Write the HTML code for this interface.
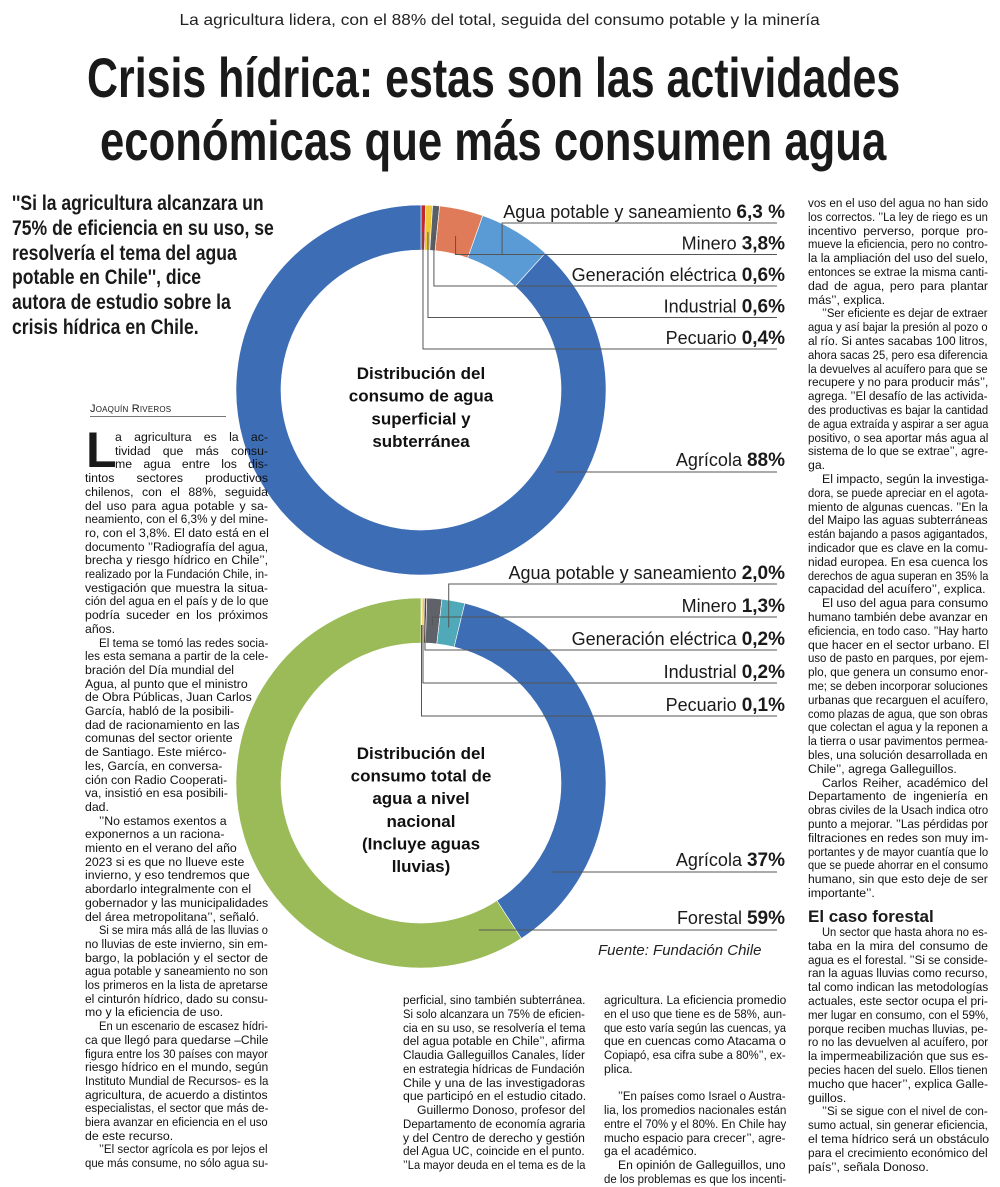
<!DOCTYPE html>
<html lang="es">
<head>
<meta charset="utf-8">
<title>Crisis hídrica</title>
<style>
  html,body{margin:0;padding:0;background:#fff;}
  #page{position:relative;width:1000px;height:1187px;overflow:hidden;background:#fff;color:#1a1a1a;font-family:"Liberation Sans",sans-serif;}
  .abs{position:absolute;}
  #kicker{left:0;top:12px;width:1000px;text-align:center;font-size:16px;color:#222;white-space:nowrap;}
  .tline{position:absolute;white-space:nowrap;font-family:"Liberation Sans Narrow","Liberation Sans",sans-serif;font-weight:bold;font-size:56px;line-height:56px;color:#1a1a1a;transform-origin:0 0;}
  #quote{left:12px;top:192px;font-family:"Liberation Sans Narrow","Liberation Sans",sans-serif;font-weight:bold;font-size:21px;line-height:24.8px;white-space:nowrap;transform-origin:0 0;color:#1a1a1a;}
  #byline{left:90px;top:403px;width:136px;font-size:11px;font-variant:small-caps;letter-spacing:0.2px;border-bottom:1px solid #777;padding-bottom:1px;white-space:nowrap;}
  .col{position:absolute;font-family:"Liberation Sans Narrow","Liberation Sans",sans-serif;font-size:12.3px;color:#111;}
  .ln{position:absolute;left:0;white-space:nowrap;height:14px;line-height:14px;}
  .ln.j{text-align:justify;text-align-last:justify;}
  .ln span{display:inline-block;transform-origin:0 0;}
  #dropcap{left:86px;top:427px;font-size:50px;line-height:46px;font-weight:bold;font-family:"Liberation Sans Narrow","Liberation Sans",sans-serif;}
  #forestal-h{left:808px;top:907px;font-size:17px;font-weight:bold;font-family:"Liberation Sans Narrow","Liberation Sans",sans-serif;white-space:nowrap;}
</style>
</head>
<body>
<div id="page">
  <div id="kicker" class="abs">La agricultura lidera, con el 88% del total, seguida del consumo potable y la minería</div>
  <div class="tline" id="t1" style="left:87px;top:50px;">Crisis hídrica: estas son las actividades</div>
  <div class="tline" id="t2" style="left:100px;top:113px;">económicas que más consumen agua</div>

  <div id="quote" class="abs">''Si la agricultura alcanzara un<br>75% de eficiencia en su uso, se<br>resolvería el tema del agua<br>potable en Chile'', dice<br>autora de estudio sobre la<br>crisis hídrica en Chile.</div>

  <div id="byline" class="abs">Joaquín Riveros</div>
  <div id="dropcap" class="abs">L</div>
  <div id="forestal-h" class="abs">El caso forestal</div>

  <svg id="charts" class="abs" style="left:0;top:0;" width="1000" height="1187"></svg>
</div>

<script>
// ---------- chart data ----------
const topCategories = ['Pecuario','Industrial','Generación eléctrica','Minero','Agua potable y saneamiento','Agrícola'];
const topValues = [0.4, 0.6, 0.6, 3.8, 6.3, 88];
const topValueLabels = ['0,4%','0,6%','0,6%','3,8%','6,3 %','88%'];
const topColors = ['#c0282d','#f0c93a','#5a5f66','#e07b5a','#5b9bd5','#3d6db5'];

const bottomCategories = ['Pecuario','Industrial','Generación eléctrica','Minero','Agua potable y saneamiento','Agrícola','Forestal'];
const bottomValues = [0.1, 0.2, 0.2, 1.3, 2.0, 37, 59];
const bottomValueLabels = ['0,1%','0,2%','0,2%','1,3%','2,0%','37%','59%'];
const bottomColors = ['#8ecae6','#f0c93a','#5b4433','#5f6369','#4fa9b8','#3d6db5','#9bbb59'];

const NS = 'http://www.w3.org/2000/svg';
const svg = document.getElementById('charts');

function pt(cx, cy, r, a){ return [cx + r*Math.sin(a), cy - r*Math.cos(a)]; }
function arcPath(cx, cy, r0, r1, a0, a1){
  const large = (a1 - a0) > Math.PI ? 1 : 0;
  const p0 = pt(cx,cy,r1,a0), p1 = pt(cx,cy,r1,a1), p2 = pt(cx,cy,r0,a1), p3 = pt(cx,cy,r0,a0);
  return `M${p0[0]},${p0[1]} A${r1},${r1} 0 ${large} 1 ${p1[0]},${p1[1]} L${p2[0]},${p2[1]} A${r0},${r0} 0 ${large} 0 ${p3[0]},${p3[1]} Z`;
}
function addLabel(name, val, y, key){
  const t = document.createElementNS(NS,'text');
  t.setAttribute('x', 785);
  t.setAttribute('y', y + 6);
  t.setAttribute('text-anchor','end');
  t.setAttribute('font-family','Liberation Sans, sans-serif');
  t.setAttribute('font-size','18');
  t.setAttribute('fill','#1a1a1a');
  
  
  t.appendChild(document.createTextNode(name + ' '));
  const s = document.createElementNS(NS,'tspan');
  s.setAttribute('font-weight','bold');
  s.setAttribute('font-size','19');
  s.textContent = val;
  t.appendChild(s);
  svg.appendChild(t);
}
function addLine(points, key){
  const l = document.createElementNS(NS,'polyline');
  l.setAttribute('points', points.map(p=>p.join(',')).join(' '));
  l.setAttribute('fill','none');
  l.setAttribute('stroke','#555');
  l.setAttribute('stroke-width','1');
  
  
  svg.appendChild(l);
}
function drawDonut(prefix, cats, vals, labels, colors, cx, cy, smallCount, labelBase, labelStep, bigLabelY){
  const total = vals.reduce((a,b)=>a+b,0);
  const r0 = 140, r1 = 185, rm = 158;
  let acc = 0;
  const mids = [];
  for (let i=0;i<vals.length;i++){
    const a0 = acc/total*2*Math.PI;
    acc += vals[i];
    const a1 = acc/total*2*Math.PI;
    mids.push((a0+a1)/2);
    const p = document.createElementNS(NS,'path');
    p.setAttribute('d', arcPath(cx,cy,r0,r1,a0,a1));
    p.setAttribute('fill', colors[i]);
    p.setAttribute('stroke', '#fff');
    p.setAttribute('stroke-width', '0.6');
    
    
    svg.appendChild(p);
  }
  for (let i=0;i<smallCount;i++){
    const row = smallCount - 1 - i;
    const ly = labelBase + row*labelStep;
    const lineY = ly + 11;
    const a = pt(cx,cy,rm,mids[i]);
    addLine([a,[a[0],lineY],[777,lineY]], prefix + '-' + i);
    addLabel(cats[i], labels[i], ly, prefix + '-' + i);
  }
  for (let k=smallCount;k<vals.length;k++){
    const ly = bigLabelY[k-smallCount];
    const lineY = ly + 12;
    const dy = lineY - cy;
    const x0 = cx + Math.sqrt(Math.max(0, rm*rm - dy*dy));
    addLine([[x0,lineY],[777,lineY]], prefix + '-' + k);
    addLabel(cats[k], labels[k], ly, prefix + '-' + k);
  }
}
drawDonut('top-donut', topCategories, topValues, topValueLabels, topColors, 421, 390, 5, 212, 31.5, [460]);
drawDonut('bottom-donut', bottomCategories, bottomValues, bottomValueLabels, bottomColors, 421, 783, 5, 573, 33, [860, 918]);

function centerText(lines, y0, lh, fs, key){
  lines.forEach((s,i)=>{
    const t = document.createElementNS(NS,'text');
    t.setAttribute('x', 421);
    t.setAttribute('y', y0 + i*lh);
    t.setAttribute('text-anchor','middle');
    t.setAttribute('font-family','Liberation Sans, sans-serif');
    t.setAttribute('font-weight','bold');
    t.setAttribute('font-size', fs);
    t.setAttribute('fill','#111');
    
    
    t.textContent = s;
    svg.appendChild(t);
  });
}
centerText(['Distribución del','consumo de agua','superficial y','subterránea'], 379, 22.7, 17, 'top-donut-title');
centerText(['Distribución del','consumo total de','agua a nivel','nacional','(Incluye aguas','lluvias)'], 759, 22.6, 17, 'bottom-donut-title');

const src = document.createElementNS(NS,'text');
src.setAttribute('x', 598);
src.setAttribute('y', 955);
src.setAttribute('font-family','Liberation Sans, sans-serif');
src.setAttribute('font-style','italic');
src.setAttribute('font-size','15');
src.setAttribute('fill','#222');


src.textContent = 'Fuente: Fundación Chile';
svg.appendChild(src);

// ---------- text columns ----------
const page = document.getElementById('page');
function column(key, x, y, w, lh, lines){
  const c = document.createElement('div');
  c.className = 'col';
  c.style.left = x + 'px';
  c.style.top = y + 'px';
  c.style.width = w + 'px';
  
  
  lines.forEach((raw,i)=>{
    let s = raw, indent = 0, just = true;
    if (s.startsWith('>')) { indent = 14; s = s.slice(1); }
    if (s.startsWith('~')) { indent = 30; s = s.slice(1); }
    if (s.endsWith('|')) { just = false; s = s.slice(0,-1); }
    const d = document.createElement('div');
    d.className = 'ln' + (just ? ' j' : '');
    d.style.top = (i*lh) + 'px';
    d.style.left = indent + 'px';
    d.style.width = (w - indent) + 'px';
    d.textContent = s;
    c.appendChild(d);
  });
  page.appendChild(c);
  c.querySelectorAll('.ln').forEach(d=>{
    const W = d.clientWidth;
    if (d.scrollWidth > W + 1){
      const sp = document.createElement('span');
      sp.textContent = d.textContent;
      d.textContent = '';
      d.appendChild(sp);
      sp.style.transform = 'scaleX(' + (W/sp.offsetWidth) + ')';
    }
  });
}
column('left-column-text', 85, 430, 183, 13.7, [
  '~a agricultura es la ac-','~tividad que más consu-','~me agua entre los dis-',
  'tintos sectores productivos','chilenos, con el 88%, seguida','del uso para agua potable y sa-',
  'neamiento, con el 6,3% y del mine-','ro, con el 3,8%. El dato está en el','documento ’’Radiografía del agua,',
  'brecha y riesgo hídrico en Chile’’,','realizado por la Fundación Chile, in-','vestigación que muestra la situa-',
  'ción del agua en el país y de lo que','podría suceder en los próximos','años.|',
  '>El tema se tomó las redes socia-|','les esta semana a partir de la cele-|','bración del Día mundial del|',
  'Agua, al punto que el ministro|','de Obra Públicas, Juan Carlos|','García, habló de la posibili-|',
  'dad de racionamiento en las|','comunas del sector oriente|','de Santiago. Este miérco-|',
  'les, García, en conversa-|','ción con Radio Cooperati-|','va, insistió en esa posibili-|','dad.|',
  '>’’No estamos exentos a|','exponernos a un raciona-|','miento en el verano del año|',
  '2023 si es que no llueve este|','invierno, y eso tendremos que|','abordarlo integralmente con el|',
  'gobernador y las municipalidades|','del área metropolitana’’, señaló.|',
  '>Si se mira más allá de las lluvias o','no lluvias de este invierno, sin em-','bargo, la población y el sector de',
  'agua potable y saneamiento no son','los primeros en la lista de apretarse','el cinturón hídrico, dado su consu-',
  'mo y la eficiencia de uso.|',
  '>En un escenario de escasez hídri-','ca que llegó para quedarse –Chile','figura entre los 30 países con mayor',
  'riesgo hídrico en el mundo, según','Instituto Mundial de Recursos- es la','agricultura, de acuerdo a distintos',
  'especialistas, el sector que más de-','biera avanzar en eficiencia en el uso','de este recurso.|',
  '>’’El sector agrícola es por lejos el','que más consume, no sólo agua su-'
]);
column('middle-column-text', 403, 993, 182, 13.75, [
  'perficial, sino también subterránea.','Si solo alcanzara un 75% de eficien-','cia en su uso, se resolvería el tema',
  'del agua potable en Chile’’, afirma','Claudia Galleguillos Canales, líder','en estrategia hídricas de Fundación',
  'Chile y una de las investigadoras','que participó en el estudio citado.|','>Guillermo Donoso, profesor del',
  'Departamento de economía agraria','y del Centro de derecho y gestión','del Agua UC, coincide en el punto.',
  '’’La mayor deuda en el tema es de la'
]);
column('third-column-text', 604, 993, 182, 13.75, [
  'agricultura. La eficiencia promedio','en el uso que tiene es de 58%, aun-','que esto varía según las cuencas, ya',
  'que en cuencas como Atacama o|','Copiapó, esa cifra sube a 80%’’, ex-','plica.|','',
  '>’’En países como Israel o Austra-','lia, los promedios nacionales están','entre el 70% y el 80%. En Chile hay',
  'mucho espacio para crecer’’, agre-','ga el académico.|','>En opinión de Galleguillos, uno',
  'de los problemas es que los incenti-'
]);
column('right-column-text', 808, 196, 180, 13.8, [
  'vos en el uso del agua no han sido','los correctos. ’’La ley de riego es un','incentivo perverso, porque pro-',
  'mueve la eficiencia, pero no contro-','la la ampliación del uso del suelo,','entonces se extrae la misma canti-',
  'dad de agua, pero para plantar','más’’, explica.|','>’’Ser eficiente es dejar de extraer',
  'agua y así bajar la presión al pozo o','al río. Si antes sacabas 100 litros,','ahora sacas 25, pero esa diferencia',
  'la devuelves al acuífero para que se','recupere y no para producir más’’,','agrega. ’’El desafío de las activida-',
  'des productivas es bajar la cantidad','de agua extraída y aspirar a ser agua','positivo, o sea aportar más agua al',
  'sistema de lo que se extrae’’, agre-','ga.|','>El impacto, según la investiga-',
  'dora, se puede apreciar en el agota-','miento de algunas cuencas. ’’En la','del Maipo las aguas subterráneas',
  'están bajando a pasos agigantados,','indicador que es clave en la comu-','nidad europea. En esa cuenca los',
  'derechos de agua superan en 35% la','capacidad del acuífero’’, explica.|','>El uso del agua para consumo',
  'humano también debe avanzar en','eficiencia, en todo caso. ’’Hay harto','que hacer en el sector urbano. El',
  'uso de pasto en parques, por ejem-','plo, que genera un consumo enor-','me; se deben incorporar soluciones',
  'urbanas que recarguen el acuífero,','como plazas de agua, que son obras','que colectan el agua y la reponen a',
  'la tierra o usar pavimentos permea-','bles, una solución desarrollada en','Chile’’, agrega Galleguillos.|',
  '>Carlos Reiher, académico del','Departamento de ingeniería en','obras civiles de la Usach indica otro',
  'punto a mejorar. ’’Las pérdidas por','filtraciones en redes son muy im-','portantes y de mayor cuantía que lo',
  'que se puede ahorrar en el consumo','humano, sin que esto deje de ser','importante’’.|'
]);
column('forestal-column-text', 808, 925, 180, 13.8, [
  '>Un sector que hasta ahora no es-','taba en la mira del consumo de','agua es el forestal. ’’Si se conside-',
  'ran la aguas lluvias como recurso,','tal como indican las metodologías','actuales, este sector ocupa el pri-',
  'mer lugar en consumo, con el 59%,','porque reciben muchas lluvias, pe-','ro no las devuelven al acuífero, por',
  'la impermeabilización que sus es-','pecies hacen del suelo. Ellos tienen','mucho que hacer’’, explica Galle-',
  'guillos.|','>’’Si se sigue con el nivel de con-','sumo actual, sin generar eficiencia,',
  'el tema hídrico será un obstáculo','para el crecimiento económico del','país’’, señala Donoso.|'
]);

// ---------- fit headline / kicker / quote widths ----------
function fitWidth(el, target){
  const w = el.offsetWidth;
  if (w > 0) el.style.transform = 'scaleX(' + (target/w) + ')';
}
fitWidth(document.getElementById('t1'), 813);
fitWidth(document.getElementById('t2'), 786);
(function(){
  const k = document.getElementById('kicker');
  const s = document.createElement('span');
  s.textContent = k.textContent; k.textContent = '';
  s.style.display = 'inline-block';
  k.appendChild(s);
  const w = s.offsetWidth;
  s.style.transform = 'scaleX(' + (640/w) + ')';
})();
(function(){
  const q = document.getElementById('quote');
  q.style.display = 'inline-block';
  const w = q.offsetWidth;
  q.style.transform = 'scaleX(' + (262/w) + ')';
})();
</script>
</body>
</html>
